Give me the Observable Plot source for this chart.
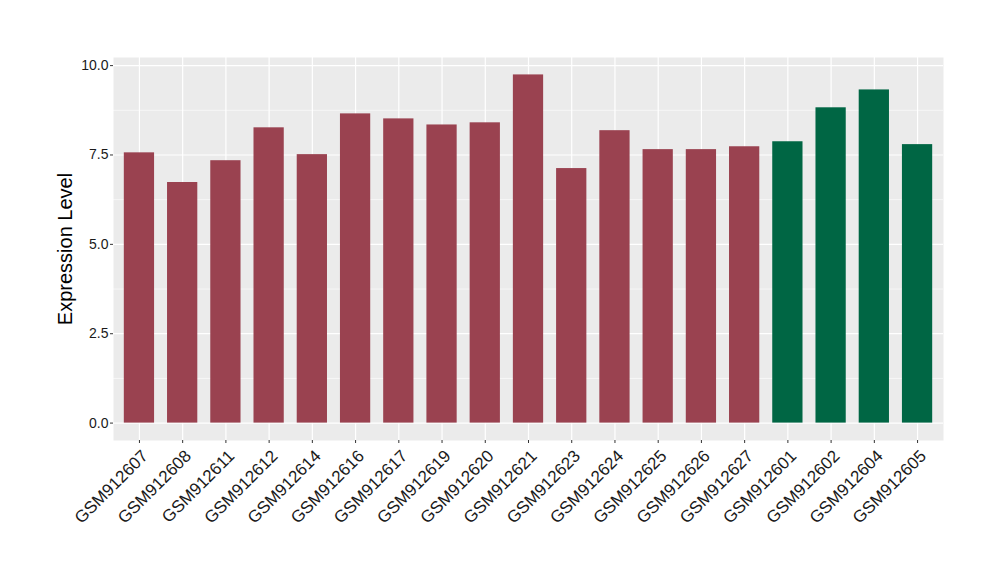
<!DOCTYPE html>
<html>
<head>
<meta charset="utf-8">
<script src="https://cdn.jsdelivr.net/npm/d3@7"></script>
<script src="https://cdn.jsdelivr.net/npm/@observablehq/plot@0.6"></script>
<style>
  html, body { margin: 0; padding: 0; background: #fff; }
  #chart { width: 1000px; height: 580px; }
</style>
</head>
<body>
<div id="chart"></div>
<script>
const samples = ["GSM912607","GSM912608","GSM912611","GSM912612","GSM912614","GSM912616","GSM912617","GSM912619","GSM912620","GSM912621","GSM912623","GSM912624","GSM912625","GSM912626","GSM912627","GSM912601","GSM912602","GSM912604","GSM912605"];
const values = [7.56,6.73,7.34,8.26,7.51,8.65,8.51,8.34,8.40,9.74,7.12,8.18,7.65,7.65,7.73,7.87,8.82,9.32,7.79];
const groups = ["A","A","A","A","A","A","A","A","A","A","A","A","A","A","A","B","B","B","B"];
const groupColors = {A: "#9A4250", B: "#006644"};
const majorTicks = [0, 2.5, 5, 7.5, 10];
const minorTicks = [1.25, 3.75, 6.25, 8.75];

const data = samples.map((s, i) => ({sample: s, value: values[i], group: groups[i]}));

const chart = Plot.plot({
  width: 1000,
  height: 580,
  marginTop: 57,
  marginBottom: 140,
  marginLeft: 113,
  marginRight: 57,
  style: {fontFamily: "'Liberation Sans', Arial, sans-serif", background: "#fff"},
  x: {domain: samples, paddingInner: 0.3, paddingOuter: 0.25, round: false, axis: null},
  y: {domain: [-0.487, 10.227], axis: null},
  color: {domain: ["A", "B"], range: [groupColors.A, groupColors.B]},
  marks: [
    Plot.frame({fill: "#EBEBEB", stroke: null}),
    Plot.ruleY(minorTicks, {stroke: "#fff", strokeWidth: 0.6}),
    Plot.ruleY(majorTicks, {stroke: "#fff", strokeWidth: 1.2}),
    Plot.ruleX(samples, {x: d => d, stroke: "#fff", strokeWidth: 1.2}),
    Plot.barY(data, {x: "sample", y: "value", fill: "group"}),
    Plot.axisY(majorTicks, {
      tickFormat: d3.format(".1f"),
      tickSize: 3,
      tickPadding: 2,
      fontSize: 14,
      stroke: "#333",
      fill: "#1a1a1a",
      label: null
    }),
    Plot.axisX({
      tickSize: 3,
      tickFormat: () => "",
      stroke: "#333",
      label: null
    }),
    Plot.text(samples, {
      x: d => d,
      frameAnchor: "bottom",
      rotate: -45,
      textAnchor: "end",
      lineAnchor: "top",
      dy: 8,
      dx: 1,
      fontSize: 17,
      fill: "#1a1a1a"
    }),
    Plot.text(["Expression Level"], {
      frameAnchor: "left",
      dx: -48,
      rotate: -90,
      fontSize: 20,
      fill: "#000",
      textAnchor: "middle"
    })
  ]
});
document.getElementById("chart").appendChild(chart);
</script>
</body>
</html>
